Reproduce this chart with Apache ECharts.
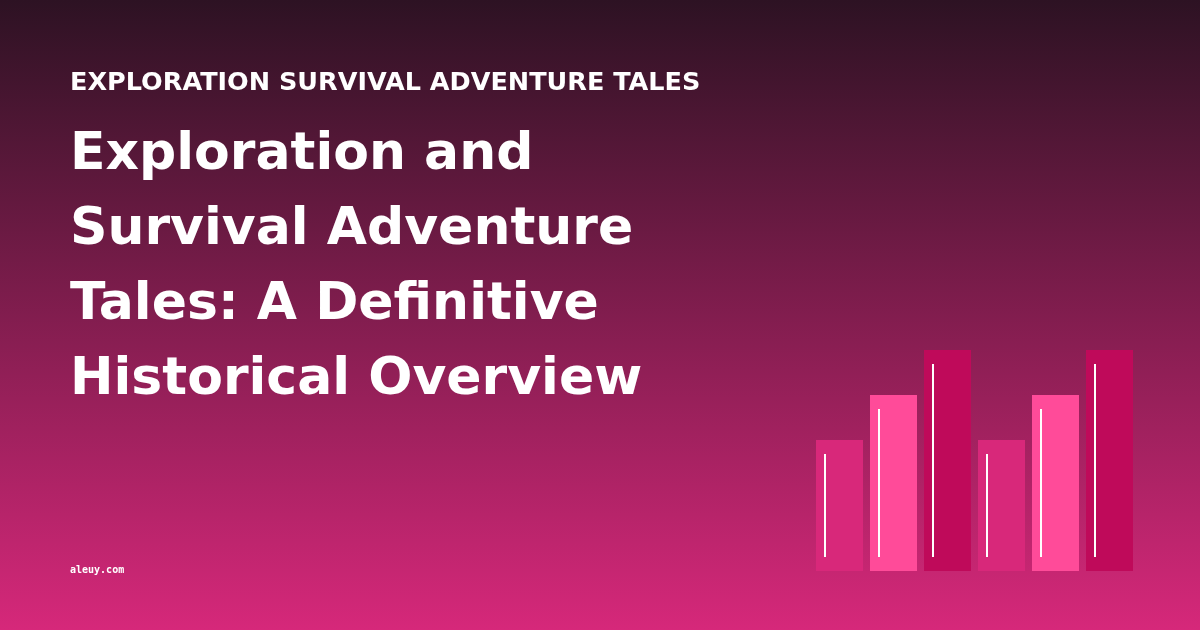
<!DOCTYPE html>
<html>
<head>
<meta charset="utf-8">
<style>
html,body{margin:0;padding:0;background:#2e1224;}
#c{width:1200px;height:630px;}
</style>
<script src="https://cdn.jsdelivr.net/npm/echarts@6/dist/echarts.min.js"></script>
</head>
<body>
<div id="c"></div>
<script>
var categories = ['A1', 'A2', 'A3', 'B1', 'B2', 'B3'];
var values = [131, 176, 221, 131, 176, 221];
var barColors = ['#d8287a', '#ff4b99', '#bf0a5a', '#d8287a', '#ff4b99', '#bf0a5a'];
var kicker = 'EXPLORATION SURVIVAL ADVENTURE TALES';
var headline = ['Exploration and', 'Survival Adventure', 'Tales: A Definitive', 'Historical Overview'];
var footer = 'aleuy.com';

var chart = echarts.init(document.getElementById('c'), null, {renderer: 'canvas'});
chart.setOption({
  animation: false,
  backgroundColor: new echarts.graphic.LinearGradient(0, 0, 0, 1, [
    {offset: 0, color: '#2d1223'},
    {offset: 1, color: '#d6287a'}
  ]),
  title: [
    {text: kicker, left: 70, top: 70.5, padding: 0, textStyle: {color: '#ffffff', fontFamily: 'DejaVu Sans', fontWeight: 'bold', fontSize: 25.5, lineHeight: 25.5}},
    {text: headline.join('\n'), left: 70, top: 118, padding: 0, textStyle: {color: '#ffffff', fontFamily: 'DejaVu Sans', fontWeight: 'bold', fontSize: 52, lineHeight: 75}},
    {text: footer, left: 70, top: 565, padding: 0, textStyle: {color: '#ffffff', fontFamily: 'DejaVu Sans Mono', fontWeight: 'bold', fontSize: 10, lineHeight: 10}}
  ],
  grid: {left: 812.5, width: 324, top: 350, height: 221},
  xAxis: {type: 'category', data: categories, show: false, boundaryGap: true},
  yAxis: {type: 'value', min: 0, max: 221, show: false},
  series: [
    {
      type: 'bar',
      barWidth: 47,
      data: values.map(function (v, i) { return {value: v, itemStyle: {color: barColors[i]}}; }),
      silent: true
    },
    {
      type: 'custom',
      coordinateSystem: 'cartesian2d',
      silent: true,
      z: 5,
      encode: {x: 0, y: 1},
      data: values.map(function (v, i) { return [i, v]; }),
      renderItem: function (params, api) {
        var top = api.coord([api.value(0), api.value(1)]);
        var bottom = api.coord([api.value(0), 0]);
        var x = top[0] - 23.5 + 9;
        return {
          type: 'rect',
          shape: {x: x - 1, y: top[1] + 14, width: 2, height: bottom[1] - top[1] - 28},
          style: {fill: '#ffffff'}
        };
      }
    }
  ]
});
</script>
</body>
</html>
